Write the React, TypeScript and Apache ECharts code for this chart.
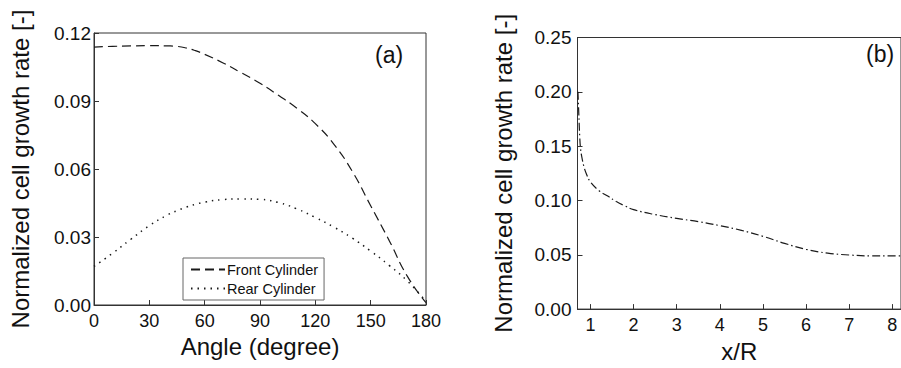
import React, { useEffect, useRef } from "react";
import * as echarts from "echarts";

// Panel (a): angle in degrees vs normalized cell growth rate
const angles = [0, 10, 20, 30, 40, 45, 50, 55, 60, 70, 80, 90, 100, 110, 120, 130, 140, 150, 160, 170, 180];
const frontCylinder = [0.1138, 0.1141, 0.1143, 0.1144, 0.1143, 0.1141, 0.1134, 0.1122, 0.1106, 0.1068, 0.1024, 0.0978, 0.0925, 0.0868, 0.08, 0.071, 0.059, 0.0438, 0.0285, 0.0125, 0.001];
const rearCylinder = [0.017, 0.0228, 0.029, 0.035, 0.0398, 0.0416, 0.0432, 0.0444, 0.0454, 0.0465, 0.0468, 0.0466, 0.0452, 0.0424, 0.0386, 0.0344, 0.0295, 0.0238, 0.0175, 0.0105, 0.0015];

// Panel (b): x/R vs normalized cell growth rate
const xR = [0.71, 0.73, 0.75, 0.77, 0.8, 0.85, 0.9, 1.0, 1.2, 1.4, 1.6, 1.8, 2.0, 2.5, 3.0, 3.5, 4.0, 4.5, 5.0, 5.5, 6.0, 6.5, 7.0, 7.5, 8.0, 8.2];
const wakeRate = [0.2, 0.18, 0.16, 0.148, 0.14, 0.131, 0.125, 0.117, 0.109, 0.104, 0.099, 0.095, 0.0915, 0.087, 0.0835, 0.0805, 0.0768, 0.0725, 0.067, 0.0605, 0.055, 0.0515, 0.0498, 0.049, 0.049, 0.049];

const angleTicks = [0, 30, 60, 90, 120, 150, 180];
const xRTicks = [1, 2, 3, 4, 5, 6, 7, 8];

const FONT = "Arial";
const AXIS_COLOR = "#333";
const TEXT_COLOR = "#111";
const LINE_COLOR = "#1a1a1a";

export default function App() {
  const ref = useRef<HTMLDivElement>(null);
  useEffect(() => {
    if (!ref.current) return;
    const chart = echarts.init(ref.current, null, { renderer: "svg" });
    const axisCommon = {
      splitLine: { show: false },
      axisLine: { lineStyle: { color: AXIS_COLOR, width: 1 } },
      axisTick: { inside: true, length: 5, lineStyle: { color: AXIS_COLOR, width: 1 } },
      nameTextStyle: { fontFamily: FONT, fontSize: 24, color: TEXT_COLOR },
    };
    const labelStyle = { fontFamily: FONT, fontSize: 18, color: TEXT_COLOR };
    const yLabelStyle = { fontFamily: FONT, fontSize: 19, color: TEXT_COLOR };
    chart.setOption({
      animation: false,
      backgroundColor: "#fff",
      grid: [
        { left: 94, top: 33, width: 332, height: 272, show: true, borderColor: AXIS_COLOR, borderWidth: 1, containLabel: false },
        { left: 577.5, top: 37.5, width: 325, height: 273, show: true, borderColor: AXIS_COLOR, borderWidth: 1, containLabel: false },
      ],
      xAxis: [
        {
          ...axisCommon,
          gridIndex: 0,
          type: "value",
          min: 0,
          max: 180,
          interval: 30,
          name: "Angle (degree)",
          nameLocation: "middle",
          nameGap: 27,
          axisLabel: { ...labelStyle, margin: 7, customValues: angleTicks },
          axisTick: { ...axisCommon.axisTick, customValues: angleTicks },
        },
        {
          ...axisCommon,
          gridIndex: 1,
          type: "value",
          min: 0.7,
          max: 8.2,
          name: "x/R",
          nameLocation: "middle",
          nameGap: 22,
          axisLabel: { ...labelStyle, margin: 7, customValues: xRTicks },
          axisTick: { ...axisCommon.axisTick, customValues: xRTicks },
        },
      ],
      yAxis: [
        {
          ...axisCommon,
          gridIndex: 0,
          type: "value",
          min: 0,
          max: 0.12,
          interval: 0.03,
          name: "Normalized cell growth rate [-]",
          nameLocation: "middle",
          nameGap: 62,
          axisLabel: { ...yLabelStyle, margin: 3, formatter: (v: number) => v.toFixed(2) },
        },
        {
          ...axisCommon,
          gridIndex: 1,
          type: "value",
          min: 0,
          max: 0.25,
          interval: 0.05,
          name: "Normalized cell growth rate [-]",
          nameLocation: "middle",
          nameGap: 62,
          axisLabel: { ...yLabelStyle, margin: 6, formatter: (v: number) => v.toFixed(2) },
        },
      ],
      legend: {
        data: ["Front Cylinder", "Rear Cylinder"],
        orient: "vertical",
        left: 183,
        top: 258,
        padding: [4, 6, 4, 7],
        itemWidth: 34,
        itemHeight: 14,
        itemGap: 4,
        borderColor: "#666",
        borderWidth: 1,
        backgroundColor: "#fff",
        itemStyle: { opacity: 0 },
        textStyle: { fontFamily: FONT, fontSize: 14.5, color: TEXT_COLOR, padding: [0, 0, 0, -3] },
      },
      series: [
        {
          name: "Front Cylinder",
          type: "line",
          xAxisIndex: 0,
          yAxisIndex: 0,
          data: angles.map((a, i) => [a, frontCylinder[i]]),
          showSymbol: false,
          symbol: "none",
          smooth: 0.5,
          lineStyle: { color: LINE_COLOR, width: 1.2, type: [9, 5] },
          itemStyle: { color: LINE_COLOR },
        },
        {
          name: "Rear Cylinder",
          type: "line",
          xAxisIndex: 0,
          yAxisIndex: 0,
          data: angles.map((a, i) => [a, rearCylinder[i]]),
          showSymbol: false,
          symbol: "none",
          smooth: 0.5,
          lineStyle: { color: LINE_COLOR, width: 1.5, type: [1.5, 5] },
          itemStyle: { color: LINE_COLOR },
        },
        {
          name: "Wake",
          type: "line",
          xAxisIndex: 1,
          yAxisIndex: 1,
          data: xR.map((x, i) => [x, wakeRate[i]]),
          showSymbol: false,
          symbol: "none",
          smooth: 0.4,
          lineStyle: { color: LINE_COLOR, width: 1.2, type: [8, 3, 1.5, 3] },
          itemStyle: { color: LINE_COLOR },
        },
      ],
      graphic: [
        { type: "text", left: 375, top: 43, style: { text: "(a)", font: `23px ${FONT}`, fill: TEXT_COLOR } },
        { type: "text", left: 866, top: 42, style: { text: "(b)", font: `23px ${FONT}`, fill: TEXT_COLOR } },
      ],
    });
    return () => chart.dispose();
  }, []);
  return (
    <div
      ref={ref}
      style={{ position: "fixed", left: 0, top: 0, width: 901, height: 368, background: "#fff" }}
    />
  );
}
